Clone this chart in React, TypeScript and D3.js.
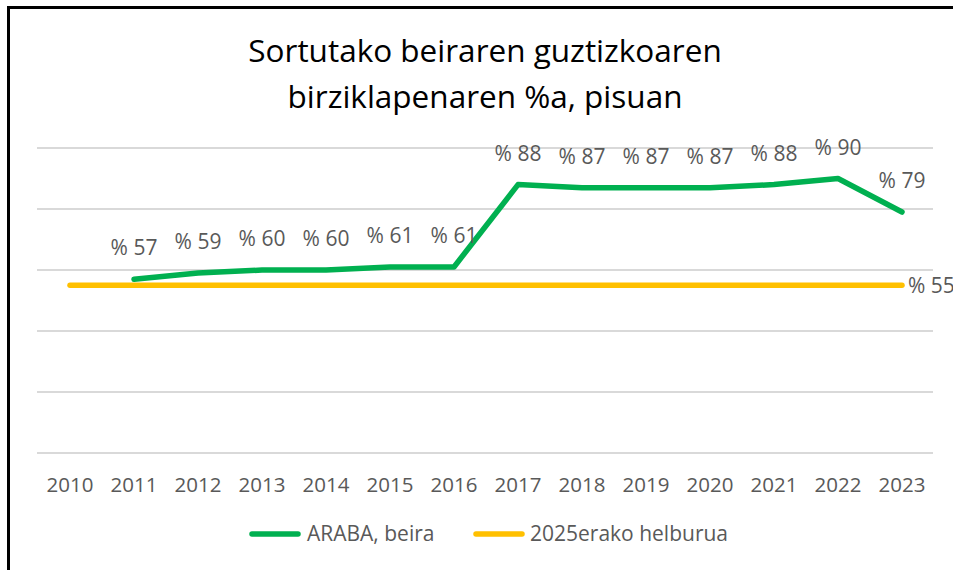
import * as d3 from 'd3';

const years = ['2010', '2011', '2012', '2013', '2014', '2015', '2016', '2017', '2018', '2019', '2020', '2021', '2022', '2023'];
// ARABA, beira (2011-2023)
const arabaYears = ['2011', '2012', '2013', '2014', '2015', '2016', '2017', '2018', '2019', '2020', '2021', '2022', '2023'];
const arabaValues = [57, 59, 60, 60, 61, 61, 88, 87, 87, 87, 88, 90, 79];
// 2025erako helburua
const targetYears = years;
const targetValues = years.map(() => 55);
const yTicks = [0, 20, 40, 60, 80, 100];
const titleLines = ['Sortutako beiraren guztizkoaren', 'birziklapenaren %a, pisuan'];
const seriesNames = ['ARABA, beira', '2025erako helburua'];

const W = 953;
const H = 570;
const font = "'Open Sans', sans-serif";
const green = '#00B050';
const yellow = '#FFC000';
const labelColor = '#595959';

export default function App() {
    const x = d3.scaleBand().domain(years).range([38, 934]);
    const y = d3.scaleLinear().domain([0, 100]).range([453, 148]);
    const cx = (yr: string) => (x(yr) ?? 0) + x.bandwidth() / 2;

    const line = d3.line<[string, number]>()
        .x((d) => cx(d[0]))
        .y((d) => y(d[1]));

    const araba: [string, number][] = arabaYears.map((yr, i) => [yr, arabaValues[i]]);
    const target: [string, number][] = targetYears.map((yr, i) => [yr, targetValues[i]]);
    const lastTarget = target[target.length - 1];

    return (
        <svg width={W} height={H} style={{ position: 'absolute', left: 0, top: 0, background: '#fff' }}>
            <rect x={8.5} y={7.5} width={W + 20} height={H + 20} fill="#fff" stroke="#000" strokeWidth={3} />

            {titleLines.map((t, i) => (
                <text key={t} x={485} y={62 + i * 46} textAnchor="middle" fontFamily={font} fontSize={31.5} fill="#000">
                    {t}
                </text>
            ))}

            {yTicks.map((v) => (
                <line key={v} x1={37} x2={933} y1={y(v)} y2={y(v)} stroke="#d9d9d9" strokeWidth={2} />
            ))}

            {years.map((yr) => (
                <text key={yr} x={cx(yr)} y={492} textAnchor="middle" fontFamily={font} fontSize={20.5} fill={labelColor}>
                    {yr}
                </text>
            ))}

            <path d={line(target) ?? ''} fill="none" stroke={yellow} strokeWidth={5.5} strokeLinecap="round" />
            <path d={line(araba) ?? ''} fill="none" stroke={green} strokeWidth={5.5} strokeLinecap="round" strokeLinejoin="round" />

            {araba.map(([yr, v]) => (
                <text key={yr} x={cx(yr)} y={y(v) - 24} textAnchor="middle" fontFamily={font} fontSize={21} fill={labelColor}>
                    {`% ${v}`}
                </text>
            ))}
            <text x={cx(lastTarget[0]) + 6} y={y(lastTarget[1]) + 7.5} fontFamily={font} fontSize={21} fill={labelColor}>
                {`% ${lastTarget[1]}`}
            </text>

            <line x1={252} x2={298} y1={534} y2={534} stroke={green} strokeWidth={5.5} strokeLinecap="round" />
            <text x={307} y={541} fontFamily={font} fontSize={21} fill={labelColor}>{seriesNames[0]}</text>
            <line x1={476} x2={522} y1={534} y2={534} stroke={yellow} strokeWidth={5.5} strokeLinecap="round" />
            <text x={530} y={541} fontFamily={font} fontSize={21} fill={labelColor}>{seriesNames[1]}</text>
        </svg>
    );
}
